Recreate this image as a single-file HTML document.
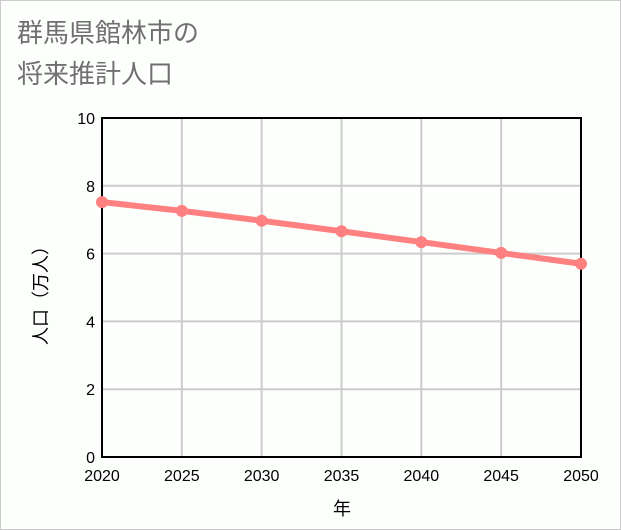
<!DOCTYPE html>
<html><head><meta charset="utf-8"><style>
body{margin:0;background:#fff;}
#wrap{position:relative;width:619px;height:528px;border:1px solid #ccc;background:#fcfffc;font-family:"Liberation Sans","Noto Sans CJK JP",sans-serif;}
#title{position:absolute;left:16px;top:12px;font-size:26px;line-height:41px;color:#707070;}
svg{position:absolute;left:0;top:0;}
</style></head><body>
<div id="wrap">
<div id="title">群馬県館林市の<br>将来推計人口</div>
<svg id="chart" width="621" height="530"></svg>
</div>
<script>
const years=[2020,2025,2030,2035,2040,2045,2050];
const population=[7.52,7.26,6.97,6.66,6.34,6.02,5.70];
const yTicks=[0,2,4,6,8,10];
const NS="http://www.w3.org/2000/svg";
const svg=document.getElementById('chart');
const L=101,R=580,T=117,B=456;
const xs=v=>L+(v-2020)/30*(R-L);
const ys=v=>B-v/10*(B-T);
function mk(t,a,p){const e=document.createElementNS(NS,t);for(const k in a)e.setAttribute(k,a[k]);(p||svg).appendChild(e);return e;}
years.forEach(y=>{
 const g=mk('line',{x1:xs(y),x2:xs(y),y1:T,y2:B,stroke:'#ccc','stroke-width':2});
 
 
 const t=mk('text',{x:xs(y),y:480,'text-anchor':'middle','font-size':16,fill:'#000'});
 t.textContent=y;
 
 
});
yTicks.forEach(v=>{
 const g=mk('line',{x1:L,x2:R,y1:ys(v),y2:ys(v),stroke:'#ccc','stroke-width':2});
 
 
 const t=mk('text',{x:94,y:ys(v)+6,'text-anchor':'end','font-size':16,fill:'#000'});
 t.textContent=v;
 
 
});
const frame=mk('rect',{x:L,y:T,width:R-L,height:B-T,fill:'none',stroke:'#000','stroke-width':2});


const line=mk('polyline',{points:years.map((y,i)=>xs(y)+','+ys(population[i])).join(' '),fill:'none',stroke:'#ff8080','stroke-width':6});


years.forEach((y,i)=>{
 const c=mk('circle',{cx:xs(y),cy:ys(population[i]),r:6,fill:'#ff8080'});
 
 
});
const xt=mk('text',{x:341,y:514,'text-anchor':'middle','font-size':18,fill:'#000'});
xt.textContent='年';


const yt=mk('text',{x:0,y:0,'text-anchor':'middle','font-size':18,fill:'#000',transform:'translate(46,290) rotate(-90)'});
yt.textContent='人口（万人）';


</script>
</body></html>
